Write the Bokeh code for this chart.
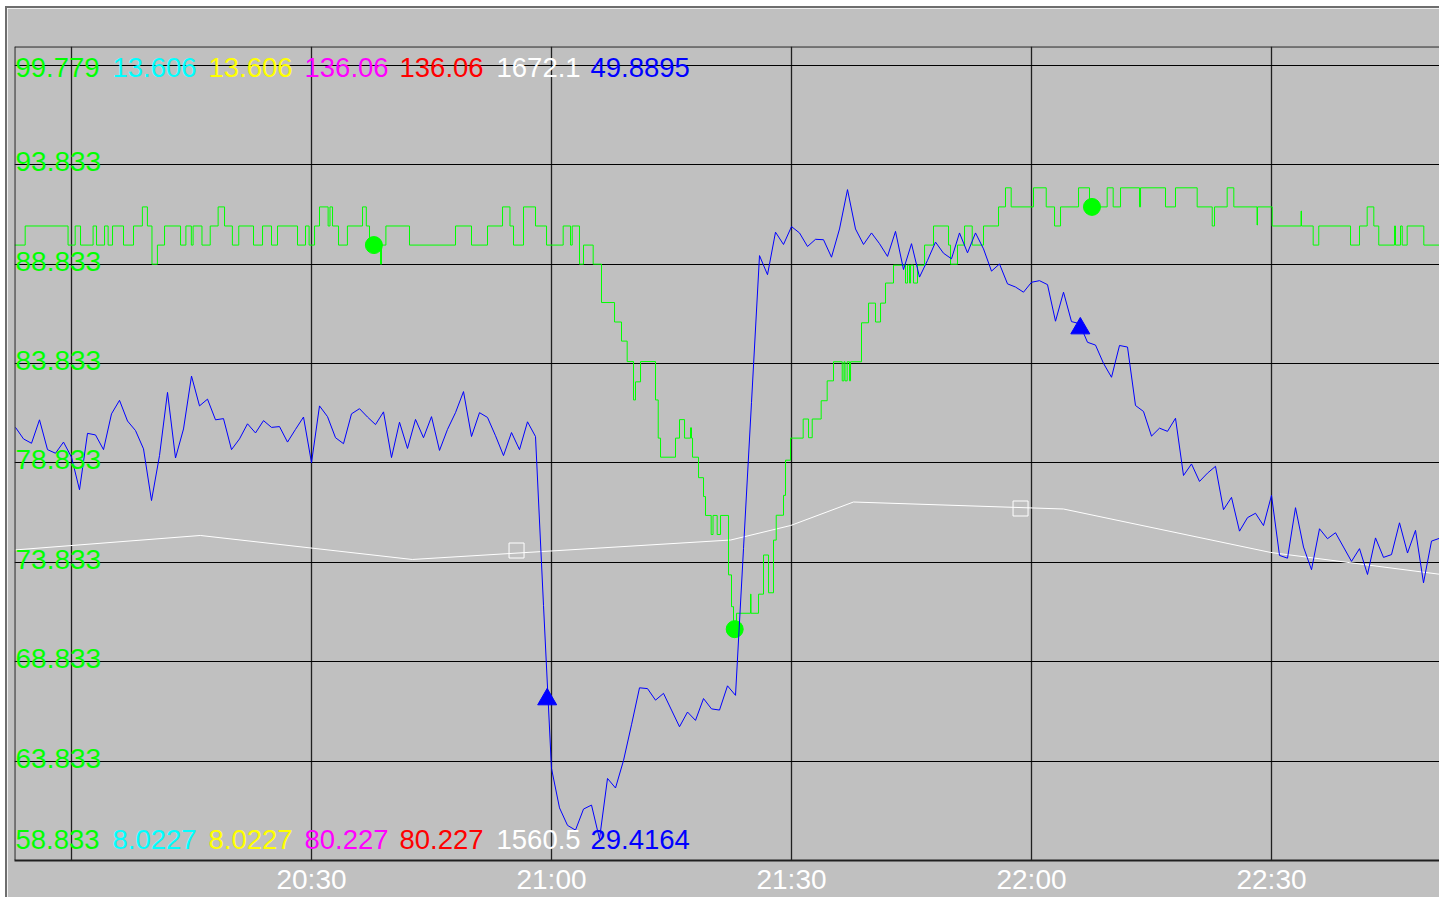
import pandas as pd
from bokeh.plotting import figure
from bokeh.models import Range1d, FixedTicker, Span, ColumnDataSource
from bokeh.core.properties import value
from bokeh.embed import file_html
from bokeh.resources import INLINE

# ---------------- data ----------------
# value ranges of the series (shown in the top / bottom label rows)
series_colors = ["#00ff00", "#00ffff", "#ffff00", "#ff00ff", "#ff0000", "#ffffff", "#0000ff"]
top_labels = ["99.779", "13.606", "13.606", "136.06", "136.06", "1672.1", "49.8895"]
bottom_labels = ["58.833", "8.0227", "8.0227", "80.227", "80.227", "1560.5", "29.4164"]
green_range = (58.833, 99.779)
blue_range = (29.4164, 49.8895)
white_range = (1560.5, 1672.1)

y_ticks = [63.833, 68.833, 73.833, 78.833, 83.833, 88.833, 93.833]
y_tick_labels = ["63.833", "68.833", "73.833", "78.833", "83.833", "88.833", "93.833"]
y_grid = [63.833, 68.833, 73.833, 78.833, 83.833, 88.833, 93.833, 98.833]

# time axis: minutes after 20:00
time_ticks = [0, 30, 60, 90, 120, 150]
time_labels = ["", "20:30", "21:00", "21:30", "22:00", "22:30"]
view_start_min = -7.125   # 19:52:52

# green series (stepped), minutes after 20:00
green_t = [-7.13, -5.79, -0.43, 0.46, 1.13, 2.70, 3.13, 4.13, 4.58, 5.13, 6.50, 7.75, 8.86, 9.49,
           10.06, 10.74, 11.63, 13.63, 14.30, 14.98, 15.20, 16.31, 17.34, 18.33, 19.13, 20.11,
           20.91, 22.75, 23.88, 25.00, 25.75, 28.25, 29.25, 29.70, 30.38, 31.00, 32.08, 32.31,
           32.63, 33.38, 34.49, 36.38, 36.85, 37.25, 38.63, 38.75, 39.30, 42.25, 48.00, 50.00,
           52.00, 53.88, 54.81, 55.25, 56.50, 58.00, 59.38, 61.46, 62.38, 62.59, 63.50, 64.00,
           65.21, 66.25, 67.88, 68.75, 69.46, 70.25, 70.50, 71.13, 73.00, 73.34, 73.63, 75.50,
           76.00, 76.63, 77.38, 77.50, 77.63, 78.38, 79.00, 79.25, 79.96, 80.19, 80.71, 81.13,
           82.13, 82.50, 82.75, 83.13, 84.88, 84.94, 85.88, 86.50, 87.13, 87.75, 88.09, 89.00,
           89.25, 89.88, 91.46, 92.13, 92.59, 93.71, 94.46, 95.25, 96.34, 96.56, 96.69, 96.96,
           97.25, 97.38, 98.75, 99.63, 100.50, 101.13, 101.75, 102.75, 104.25, 104.50, 104.75,
           104.88, 105.25, 105.75, 106.63, 107.75, 109.63, 109.88, 110.75, 111.63, 112.59,
           114.00, 115.88, 116.75, 117.46, 120.25, 121.84, 122.88, 123.63, 125.88, 127.25,
           129.46, 130.21, 131.13, 133.50, 133.63, 136.75, 138.00, 140.71, 142.59, 142.88,
           144.46, 145.29, 148.19, 148.25, 150.09, 153.69, 153.75, 155.21, 155.91, 159.88,
           161.00, 161.96, 162.79, 163.41, 165.38, 165.50, 166.13, 166.34, 166.96, 169.04,
           171.04, 171.25]
green_v = [89.79, 90.75, 89.79, 90.75, 89.79, 90.75, 89.79, 90.75, 89.79, 90.75, 89.79, 90.75, 91.71, 90.75,
           88.83, 89.79, 90.75, 89.79, 90.75, 89.79, 90.75, 89.79, 90.75, 91.71, 90.75, 89.79,
           90.75, 89.79, 90.75, 89.79, 90.75, 89.79, 90.75, 89.79, 90.75, 91.71, 90.75, 91.71,
           90.75, 89.79, 90.75, 91.71, 90.75, 89.79, 88.83, 89.79, 90.75, 89.79, 90.75, 89.79,
           90.75, 91.71, 90.75, 89.79, 91.71, 90.75, 89.79, 90.75, 89.79, 90.75, 88.83, 89.79,
           88.83, 86.90, 85.92, 84.96, 83.93, 82.00, 82.91, 83.93, 82.00, 80.08, 79.12, 80.08,
           81.01, 80.08, 80.60, 80.08, 79.12, 78.09, 77.14, 76.19, 75.23, 76.19, 75.23, 76.19,
           73.20, 71.60, 70.47, 71.27, 72.23, 71.27, 72.23, 74.20, 72.30, 74.95, 76.20, 77.20,
           78.97, 80.08, 81.04, 80.10, 81.04, 81.96, 82.96, 83.92, 82.96, 83.92, 82.96, 83.92,
           82.96, 83.92, 85.88, 86.87, 85.92, 86.87, 87.88, 88.78, 87.88, 88.78, 87.88,
           88.78, 87.88, 88.78, 89.79, 90.75, 89.79, 88.83, 89.79, 90.75, 89.79,
           90.75, 91.71, 92.67, 91.71, 92.67, 91.71, 90.75, 91.71, 92.67, 91.71,
           92.67, 91.71, 92.67, 91.71, 92.67, 91.71, 92.67, 91.71, 90.75, 91.71,
           92.67, 91.71, 90.80, 91.71, 90.75, 91.50, 90.75, 89.79, 90.75, 89.79,
           90.75, 91.71, 90.75, 89.79, 90.75, 89.79, 90.75, 89.79, 90.75, 89.79,
           90.75, 90.75]
green_marker_t = [37.80, 82.90, 127.56]
green_marker_v = [89.79, 70.47, 91.71]

# blue series: one sample per minute starting 19:53 (-7 min)
blue_start_min = -7
blue_v = [40.31, 40.02, 39.91, 40.50, 39.75, 39.66, 39.94,
          39.56, 38.74, 40.16, 40.12, 39.75, 40.65, 40.99, 40.47, 40.23, 39.77,
          38.47, 39.60, 41.19, 39.54, 40.27, 41.60, 40.85, 41.02, 40.50, 40.53,
          39.75, 40.02, 40.40, 40.17, 40.48, 40.31, 40.33, 39.94, 40.26, 40.57,
          39.42, 40.85, 40.58, 40.05, 39.90, 40.65, 40.78, 40.57, 40.38, 40.70,
          39.55, 40.44, 39.78, 40.51, 40.05, 40.58, 39.73, 40.26, 40.68, 41.21,
          40.08, 40.68, 40.56, 40.10, 39.60, 40.18, 39.75, 40.45, 40.08, 35.83,
          31.73, 30.74, 30.30, 30.18, 30.71, 30.81, 29.96, 31.48, 31.24, 31.93,
          32.83, 33.76, 33.74, 33.45, 33.62, 33.20, 32.78, 33.15, 32.94, 33.49,
          33.23, 33.20, 33.81, 33.57, 37.26, 40.94, 44.63, 44.15, 45.22, 44.91,
          45.36, 45.20, 44.86, 45.04, 45.03, 44.59, 45.30, 46.29, 45.30, 44.91,
          45.20, 44.93, 44.61, 45.24, 44.28, 44.93, 44.09, 44.51, 44.97, 44.69,
          44.55, 45.20, 44.70, 45.20, 44.80, 44.24, 44.42, 43.92, 43.84, 43.71,
          43.96, 44.00, 43.90, 42.98, 43.71, 42.97, 42.92, 42.45, 42.38, 41.92,
          41.57, 42.37, 42.33, 40.86, 40.71, 40.09, 40.29, 40.21, 40.54, 39.10,
          39.39, 38.95, 39.16, 39.33, 38.24, 38.55, 37.70, 38.04, 38.15, 37.84,
          38.60, 37.09, 37.02, 38.29, 37.30, 36.73, 37.76, 37.51, 37.66, 37.30,
          36.94, 37.26, 36.61, 37.53, 37.04, 37.11, 37.91, 37.15, 37.72, 36.40,
          37.45, 37.52]
blue_marker_t = [59.46, 126.10]
blue_marker_v = [33.47, 42.80]

# white series
white_t = [-7.13, 16.10, 42.60, 82.40, 89.90, 97.75, 124.00, 149.90, 171.25]
white_v = [1603.07, 1605.06, 1601.77, 1604.44, 1606.43, 1609.65, 1608.69, 1602.73, 1599.71]
white_marker_t = [55.63, 118.63]
white_marker_v = [1603.00, 1608.76]

# ---------------- figure ----------------
W, H = 1434, 891
BL, BR, BT, BB = 7, 0, 38, 39
frame_w = W - BL - BR
px_per_min = 8.0
view_end_min = view_start_min + frame_w / px_per_min

p = figure(width=W, height=H, x_range=Range1d(view_start_min, view_end_min),
           y_range=Range1d(*green_range), output_backend="svg", toolbar_location=None,
           min_border_left=BL, min_border_right=BR, min_border_top=BT, min_border_bottom=BB,
           background_fill_color="#c0c0c0", border_fill_color="#c0c0c0",
           outline_line_color=None)
p.styles = {"margin-left": "5px", "margin-top": "6px",
            "border-top": "2px solid #6e6e6e", "border-left": "2px solid #6e6e6e"}
p.extra_y_ranges = {"blue": Range1d(*blue_range), "white": Range1d(*white_range)}

p.yaxis.visible = False
p.ygrid.ticker = FixedTicker(ticks=y_grid)
p.ygrid.grid_line_color = "black"
p.ygrid.grid_line_width = 1
p.xgrid.ticker = FixedTicker(ticks=time_ticks)
p.xgrid.grid_line_color = "#202020"
p.xgrid.grid_line_width = 1.3

xa = p.xaxis[0]
xa.ticker = FixedTicker(ticks=time_ticks)
xa.major_label_overrides = {t: lab for t, lab in zip(time_ticks, time_labels)}
xa.major_label_text_color = "white"
xa.major_label_text_font = "Liberation Sans"
xa.major_label_text_font_size = "28px"
xa.major_label_standoff = 3
xa.major_tick_line_color = None
xa.major_tick_out = 0
xa.minor_tick_line_color = None
xa.minor_tick_out = 0
xa.axis_line_color = "#202020"
xa.axis_line_width = 2

FONT = value("Liberation Sans")
px_per_unit = (H - BT - BB) / (green_range[1] - green_range[0])

# frame top / left edges
p.add_layout(Span(location=green_range[1], dimension="width", line_color="#202020", line_width=2))
p.add_layout(Span(location=view_start_min, dimension="height", line_color="#202020", line_width=2))

# white series
p.line(white_t, white_v, y_range_name="white", line_color="white", line_width=1)
p.scatter(white_marker_t, white_marker_v, y_range_name="white", marker="square", size=15,
          fill_color=None, line_color="white", line_width=1)

# green series
p.step(green_t, green_v, mode="after", line_color="#00ff00", line_width=1)
p.scatter(green_marker_t, green_marker_v, marker="circle", size=17,
          fill_color="#00ff00", line_color="#00ff00")

# blue series
blue_t = [blue_start_min + i for i in range(len(blue_v))]
p.line(blue_t, blue_v, y_range_name="blue", line_color="#0000ff", line_width=1)
p.scatter(blue_marker_t, blue_marker_v, y_range_name="blue", marker="triangle", size=19,
          fill_color="#0000ff", line_color="#0000ff")

# y tick labels drawn inside the plot
lab_x = view_start_min + 1 / px_per_min
p.text(x=[lab_x] * len(y_ticks), y=[v + 3 / px_per_unit for v in y_ticks], text=y_tick_labels,
       text_color="#00ff00", text_font=FONT, text_font_size="28px",
       text_align="left", text_baseline="middle")

# top / bottom label rows (max / min of each series)
col_px = [1, 98, 194, 290, 385, 482, 576]
col_x = [view_start_min + c / px_per_min for c in col_px]
top_y = green_range[1] - 21 / px_per_unit
bot_y = green_range[0] + 21 / px_per_unit
src_top = ColumnDataSource(dict(x=col_x, y=[top_y] * 7, text=top_labels, color=series_colors))
src_bot = ColumnDataSource(dict(x=col_x, y=[bot_y] * 7, text=bottom_labels, color=series_colors))
for src in (src_top, src_bot):
    p.text(x="x", y="y", text="text", text_color="color", source=src, text_font=FONT,
           text_font_size="27.5px", text_align="left", text_baseline="middle")

open("out.html", "w").write(file_html(p, INLINE))
